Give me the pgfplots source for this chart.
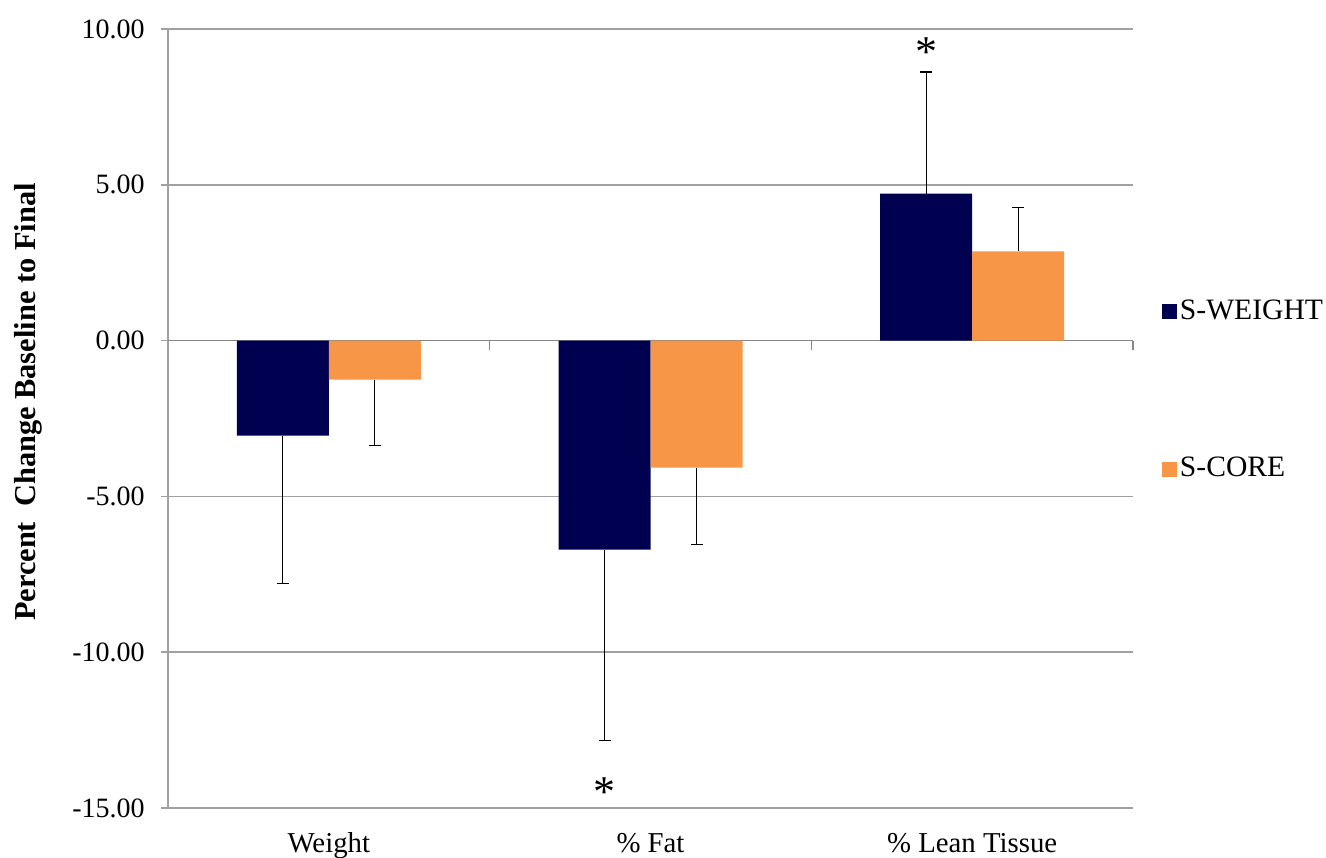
\documentclass[border=0pt]{standalone}
\usepackage{pgfplots}
\pgfplotsset{compat=1.18}
\usepackage{fontspec}
\setmainfont{Liberation Serif}
\definecolor{sweight}{RGB}{0,0,80}
\definecolor{score}{RGB}{247,150,70}
\definecolor{gridgray}{RGB}{160,160,160}
\definecolor{axisgray}{RGB}{134,134,134}
\begin{document}
\fontsize{14pt}{16.8pt}\selectfont
\begin{tikzpicture}
\useasboundingbox (0,0) rectangle (663pt,428.5pt);
\begin{axis}[
  at={(84pt,24.5pt)}, anchor=south west,
  scale only axis, width=482.5pt, height=389.5pt,
  xmin=-0.5, xmax=2.5, ymin=-15, ymax=10,
  axis y line*=left, axis x line*=bottom,
  x axis line style={draw=none},
  y axis line style={draw=gridgray, line width=0.75pt},
  ytick={-15,-10,-5,0,5,10},
  ymajorgrids, grid style={gridgray, line width=0.75pt},
  tick align=outside, major tick length=3.5pt,
  major y tick style={gridgray, line width=0.75pt},
  major x tick style={draw=none},
  xtick={0,1,2}, xticklabels={Weight, \% Fat, \% Lean Tissue},
  xticklabel style={anchor=base, inner sep=0pt, yshift=-18.5pt,
    font=\fontsize{14.4pt}{17pt}\selectfont},
  /pgf/number format/assume math mode=true,
  yticklabel style={anchor=east, inner sep=0pt, xshift=-8pt,
    /pgf/number format/fixed, /pgf/number format/fixed zerofill,
    /pgf/number format/precision=2},
  ylabel={\textbf{Percent\ \ Change Baseline to Final}},
  ylabel style={at={(axis description cs:-0.145,0.521)}, anchor=center,
    font=\fontsize{15.2pt}{18pt}\selectfont},
  legend image code/.code={\fill[#1] (0pt,-3.75pt) rectangle (7.5pt,3.75pt);},
  legend cell align=left,
  legend style={draw=none, fill=none, inner sep=0pt, outer sep=0pt,
    at={(1.0305,0.536)}, anchor=west, row sep=64.2pt,
    font=\fontsize{14.8pt}{17.5pt}\selectfont,
    nodes={inner sep=1.25pt}},
  clip=false,
]
% zero axis line with category boundary ticks
\draw[axisgray, line width=0.75pt] (axis cs:-0.5,0) -- (axis cs:2.5,0);
\draw[axisgray, line width=0.75pt] (axis cs:0.5,0) -- ([yshift=-4.5pt]axis cs:0.5,0);
\draw[axisgray, line width=0.75pt] (axis cs:1.5,0) -- ([yshift=-4.5pt]axis cs:1.5,0);
\draw[axisgray, line width=0.75pt] (axis cs:2.5,0) -- ([yshift=-4.5pt]axis cs:2.5,0);

\addplot[ybar, bar width=46pt, bar shift=-23pt, fill=sweight, draw=none]
  coordinates {(0,-3.05) (1,-6.71) (2,4.72)};
\addlegendentry{S-WEIGHT}
\addplot[ybar, bar width=46pt, bar shift=23pt, fill=score, draw=none]
  coordinates {(0,-1.25) (1,-4.08) (2,2.86)};
\addlegendentry{S-CORE}

% error bars (one-sided)
\addplot[ybar, bar width=46pt, bar shift=-23pt, draw=none, fill=none, forget plot,
  error bars/.cd, y dir=minus, y explicit,
  error bar style={black, line width=0.65pt, xshift=-23pt},
  error mark options={black, line width=0.65pt, mark size=3pt, rotate=90}]
  coordinates {(0,-3.05) +- (0,4.75) (1,-6.71) +- (0,6.13)};
\addplot[ybar, bar width=46pt, bar shift=-23pt, draw=none, fill=none, forget plot,
  error bars/.cd, y dir=plus, y explicit,
  error bar style={black, line width=0.65pt, xshift=-23pt},
  error mark options={black, line width=0.65pt, mark size=3pt, rotate=90}]
  coordinates {(2,4.72) +- (0,3.90)};
\addplot[ybar, bar width=46pt, bar shift=23pt, draw=none, fill=none, forget plot,
  error bars/.cd, y dir=minus, y explicit,
  error bar style={black, line width=0.65pt, xshift=23pt},
  error mark options={black, line width=0.65pt, mark size=3pt, rotate=90}]
  coordinates {(0,-1.25) +- (0,2.12) (1,-4.08) +- (0,2.47)};
\addplot[ybar, bar width=46pt, bar shift=23pt, draw=none, fill=none, forget plot,
  error bars/.cd, y dir=plus, y explicit,
  error bar style={black, line width=0.65pt, xshift=23pt},
  error mark options={black, line width=0.65pt, mark size=3pt, rotate=90}]
  coordinates {(2,2.86) +- (0,1.41)};

\node[anchor=north, xshift=-23pt, inner sep=0pt, font=\fontsize{22pt}{24pt}\selectfont] at (axis cs:1,-14.01) {*};
\node[anchor=north, xshift=-23pt, inner sep=0pt, font=\fontsize{22pt}{24pt}\selectfont] at (axis cs:2,9.74) {*};
\end{axis}
\end{tikzpicture}
\end{document}
